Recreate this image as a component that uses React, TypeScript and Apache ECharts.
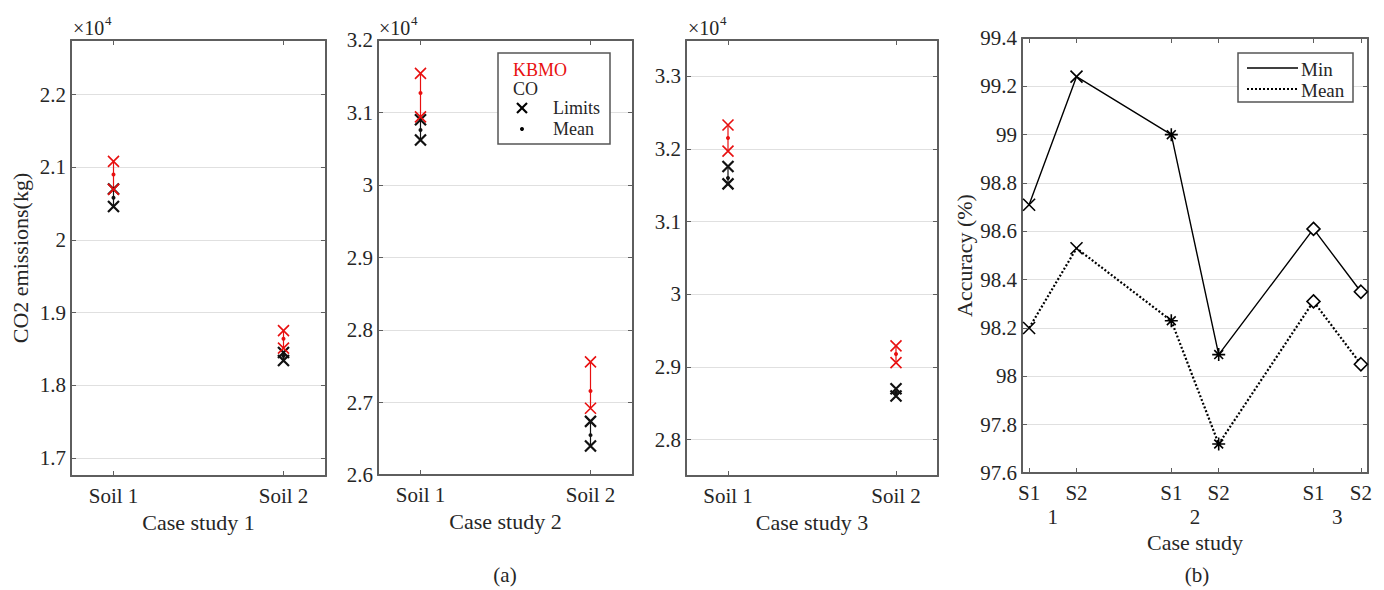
import React, { useEffect, useRef } from 'react';
import * as echarts from 'echarts';

// ---------- data ----------
const soilPos = [1, 2];
const soilLabels = ['Soil 1', 'Soil 2'];
const caseNames = ['Case study 1', 'Case study 2', 'Case study 3'];

// CO2 emissions (x10^4 kg), per soil: [low limit, mean, high limit]
const kbmoCase1 = [[2.0695, 2.09, 2.108], [1.851, 1.864, 1.875]];
const coCase1 = [[2.046, 2.058, 2.07], [1.834, 1.84, 1.845]];
const kbmoCase2 = [[3.094, 3.127, 3.154], [2.692, 2.716, 2.756]];
const coCase2 = [[3.062, 3.076, 3.09], [2.64, 2.655, 2.674]];
const kbmoCase3 = [[3.197, 3.215, 3.233], [2.906, 2.918, 2.929]];
const coCase3 = [[3.152, 3.16, 3.176], [2.86, 2.865, 2.87]];

const yRange1 = [1.675, 2.275];
const yRange2 = [2.6, 3.2];
const yRange3 = [2.75, 3.35];
const yTicks1 = [1.7, 1.8, 1.9, 2.0, 2.1, 2.2];
const yTicks2 = [2.6, 2.7, 2.8, 2.9, 3.0, 3.1, 3.2];
const yTicks3 = [2.8, 2.9, 3.0, 3.1, 3.2, 3.3];

// Accuracy (%)
const accPos = [1, 2, 4, 5, 7, 8];
const accLabels = ['S1', 'S2', 'S1', 'S2', 'S1', 'S2'];
const caseNumPos = [1.5, 4.5, 7.5];
const caseNumLabels = ['1', '2', '3'];
const accMin = [98.71, 99.24, 99.0, 98.09, 98.61, 98.35];
const accMean = [98.2, 98.53, 98.23, 97.72, 98.31, 98.05];
const accTicks = [97.6, 97.8, 98.0, 98.2, 98.4, 98.6, 98.8, 99.0, 99.2, 99.4];

// ---------- style ----------
const FONT = "'Liberation Serif', 'Times New Roman', serif";
const AX = '#5e5e5e';
const TXT = '#262626';
const GRIDC = '#e0e0e0';
const RED = '#e81010';
const BLACK = '#111111';
const XPATH = 'path://M0,0L10,10M10,0L0,10';
const ASTPATH = 'path://M5,0L5,10M0,5L10,5M1.6,1.6L8.4,8.4M8.4,1.6L1.6,8.4';
const caseSymbols = [XPATH, ASTPATH, 'diamond'];
const caseSymbolSizes = [12, 13, 13];
const TICKFS = 21;
const NAMEFS = 22;

const grids = [
  { left: 71, top: 40, width: 255, height: 436 },
  { left: 378, top: 40, width: 255, height: 435 },
  { left: 686, top: 40, width: 252, height: 436 },
  { left: 1022, top: 38, width: 346, height: 435 },
];

const fmtNum = (v: number) => String(parseFloat(Number(v).toFixed(2)));

const axisLine = { show: true, onZero: false, lineStyle: { color: AX, width: 2 } };

function xPair(g: number, min: number, max: number, ticks: number[], labels: string[], name: string | null, labelMargin: number, nameGap: number) {
  const bottom: any = {
    type: 'value', gridIndex: g, position: 'bottom', min, max,
    axisLine,
    axisTick: { show: true, inside: true, length: 5, customValues: ticks, lineStyle: { color: AX, width: 1 } },
    axisLabel: {
      customValues: ticks,
      formatter: (v: number) => labels[ticks.indexOf(v)] ?? '',
      fontSize: TICKFS, fontFamily: FONT, color: TXT, margin: labelMargin,
    },
    splitLine: { show: false },
  };
  if (name) {
    bottom.name = name;
    bottom.nameLocation = 'middle';
    bottom.nameGap = nameGap;
    bottom.nameTextStyle = { fontSize: NAMEFS, fontFamily: FONT, color: TXT };
  }
  const top: any = {
    type: 'value', gridIndex: g, position: 'top', min, max,
    axisLine,
    axisTick: { show: true, inside: true, length: 5, customValues: ticks, lineStyle: { color: AX, width: 1 } },
    axisLabel: { show: false },
    splitLine: { show: false },
  };
  return [bottom, top];
}

function yPair(g: number, range: number[], ticks: number[], name: string | null, nameGap: number) {
  const left: any = {
    type: 'value', gridIndex: g, position: 'left', min: range[0], max: range[1],
    axisLine,
    axisTick: { show: true, inside: true, length: 5, customValues: ticks, lineStyle: { color: AX, width: 1 } },
    axisLabel: { customValues: ticks, formatter: fmtNum, fontSize: TICKFS, fontFamily: FONT, color: TXT, margin: 5 },
    splitLine: { show: true, lineStyle: { color: GRIDC, width: 1 } },
  };
  if (name) {
    left.name = name;
    left.nameLocation = 'middle';
    left.nameGap = nameGap;
    left.nameTextStyle = { fontSize: NAMEFS, fontFamily: FONT, color: TXT };
  }
  const right: any = {
    type: 'value', gridIndex: g, position: 'right', min: range[0], max: range[1],
    axisLine,
    axisTick: { show: true, inside: true, length: 5, customValues: ticks, lineStyle: { color: AX, width: 1 } },
    axisLabel: { show: false },
    splitLine: { show: false },
  };
  return [left, right];
}

function methodSeries(axisIdx: number, data: number[][], color: string, xWidth: number) {
  return [
    {
      type: 'custom', xAxisIndex: axisIdx, yAxisIndex: axisIdx, z: 3,
      data: soilPos.map((x, k) => [x, data[k][0], data[k][2]]),
      encode: { x: 0, y: [1, 2] },
      renderItem: (_p: any, api: any) => {
        const a = api.coord([api.value(0), api.value(1)]);
        const b = api.coord([api.value(0), api.value(2)]);
        return { type: 'line', shape: { x1: a[0], y1: a[1], x2: b[0], y2: b[1] }, style: { stroke: color, lineWidth: 1.2 } };
      },
    },
    {
      type: 'scatter', xAxisIndex: axisIdx, yAxisIndex: axisIdx, z: 4,
      symbol: XPATH, symbolSize: 11,
      itemStyle: { color, borderColor: color, borderWidth: xWidth, opacity: 1 },
      data: soilPos.flatMap((x, k) => [[x, data[k][0]], [x, data[k][2]]]),
    },
    {
      type: 'scatter', xAxisIndex: axisIdx, yAxisIndex: axisIdx, z: 4,
      symbol: 'circle', symbolSize: 4,
      itemStyle: { color, opacity: 1 },
      data: soilPos.map((x, k) => [x, data[k][1]]),
    },
  ];
}

function accSeries(values: number[], dotted: boolean) {
  return {
    type: 'line', xAxisIndex: 6, yAxisIndex: 6, z: 3,
    showSymbol: true,
    lineStyle: { color: '#000', width: dotted ? 2.2 : 1.4, type: dotted ? [2, 2] : 'solid' },
    itemStyle: { color: '#fff', borderColor: '#000', borderWidth: 1.6 },
    data: accPos.map((x, k) => ({
      value: [x, values[k]],
      symbol: caseSymbols[Math.floor(k / 2)],
      symbolSize: caseSymbolSizes[Math.floor(k / 2)],
    })),
  };
}

function buildOption() {
  const xAxis: any[] = [
    ...xPair(0, 0.75, 2.25, soilPos, soilLabels, caseNames[0], 9, 35),
    ...xPair(1, 0.75, 2.25, soilPos, soilLabels, caseNames[1], 9, 35),
    ...xPair(2, 0.75, 2.25, soilPos, soilLabels, caseNames[2], 9, 35),
    ...xPair(3, 0.85, 8.15, accPos, accLabels, null, 9, 0),
    {
      type: 'value', gridIndex: 3, position: 'bottom', min: 0.85, max: 8.15,
      axisLine: { show: false }, axisTick: { show: false }, splitLine: { show: false },
      axisLabel: {
        customValues: caseNumPos,
        formatter: (v: number) => caseNumLabels[caseNumPos.indexOf(v)] ?? '',
        fontSize: TICKFS, fontFamily: FONT, color: TXT, margin: 33,
      },
      name: 'Case study', nameLocation: 'middle', nameGap: 57,
      nameTextStyle: { fontSize: NAMEFS, fontFamily: FONT, color: TXT },
    },
  ];
  const yAxis: any[] = [
    ...yPair(0, yRange1, yTicks1, 'CO2 emissions(kg)', 40),
    ...yPair(1, yRange2, yTicks2, null, 0),
    ...yPair(2, yRange3, yTicks3, null, 0),
    ...yPair(3, [accTicks[0], accTicks[accTicks.length - 1]], accTicks, 'Accuracy (%)', 47),
  ];
  const series: any[] = [
    ...methodSeries(0, coCase1, BLACK, 2.2),
    ...methodSeries(0, kbmoCase1, RED, 1.6),
    ...methodSeries(2, coCase2, BLACK, 2.2),
    ...methodSeries(2, kbmoCase2, RED, 1.6),
    ...methodSeries(4, coCase3, BLACK, 2.2),
    ...methodSeries(4, kbmoCase3, RED, 1.6),
    accSeries(accMin, false),
    accSeries(accMean, true),
  ];

  const expLabel = (x: number) => [
    { type: 'text', x, y: 18, z: 100, style: { text: '×10', fontSize: 20, fontFamily: FONT, fill: TXT } },
    { type: 'text', x: x + 32, y: 14, z: 100, style: { text: '4', fontSize: 13, fontFamily: FONT, fill: TXT } },
  ];
  const txt = (text: string, x: number, y: number, fill = TXT, align = 'left', size = 18) => ({
    type: 'text', x, y, z: 101,
    style: { text, fill, fontSize: size, fontFamily: FONT, align, verticalAlign: 'middle' },
  });

  const graphic: any[] = [
    ...expLabel(73),
    ...expLabel(379),
    ...expLabel(688),
    // legend (a)
    { type: 'rect', z: 100, shape: { x: 498, y: 53, width: 112, height: 91 }, style: { fill: '#fff', stroke: '#555', lineWidth: 1.5 } },
    txt('KBMO', 513, 70, RED),
    txt('CO', 513, 89, TXT),
    { type: 'line', z: 101, shape: { x1: 517, y1: 103, x2: 527, y2: 113 }, style: { stroke: '#000', lineWidth: 2.2 } },
    { type: 'line', z: 101, shape: { x1: 527, y1: 103, x2: 517, y2: 113 }, style: { stroke: '#000', lineWidth: 2.2 } },
    txt('Limits', 553, 108, TXT),
    { type: 'circle', z: 101, shape: { cx: 522, cy: 129, r: 2 }, style: { fill: '#000' } },
    txt('Mean', 553, 129, TXT),
    // legend (b)
    { type: 'rect', z: 100, shape: { x: 1238, y: 53, width: 115, height: 49 }, style: { fill: '#fff', stroke: '#555', lineWidth: 1.5 } },
    { type: 'line', z: 101, shape: { x1: 1247, y1: 68, x2: 1298, y2: 68 }, style: { stroke: '#000', lineWidth: 1.4 } },
    txt('Min', 1301, 69, TXT, 'left', 19),
    { type: 'line', z: 101, shape: { x1: 1247, y1: 89, x2: 1298, y2: 89 }, style: { stroke: '#000', lineWidth: 2.2, lineDash: [2, 2] } },
    txt('Mean', 1301, 90, TXT, 'left', 19),
    // captions
    txt('(a)', 505, 575, TXT, 'center', 21),
    txt('(b)', 1197, 575, TXT, 'center', 21),
  ];

  return {
    animation: false,
    backgroundColor: '#ffffff',
    textStyle: { fontFamily: FONT },
    grid: grids.map((g) => ({ ...g, containLabel: false })),
    xAxis,
    yAxis,
    series,
    graphic,
  };
}

export default function App() {
  const ref = useRef<HTMLDivElement>(null);
  useEffect(() => {
    if (!ref.current) return;
    const chart = echarts.init(ref.current, undefined, { renderer: 'svg' });
    chart.setOption(buildOption() as any);
    return () => chart.dispose();
  }, []);
  return (
    <div
      ref={ref}
      style={{ position: 'fixed', left: 0, top: 0, width: 1384, height: 590, background: '#fff' }}
    />
  );
}
